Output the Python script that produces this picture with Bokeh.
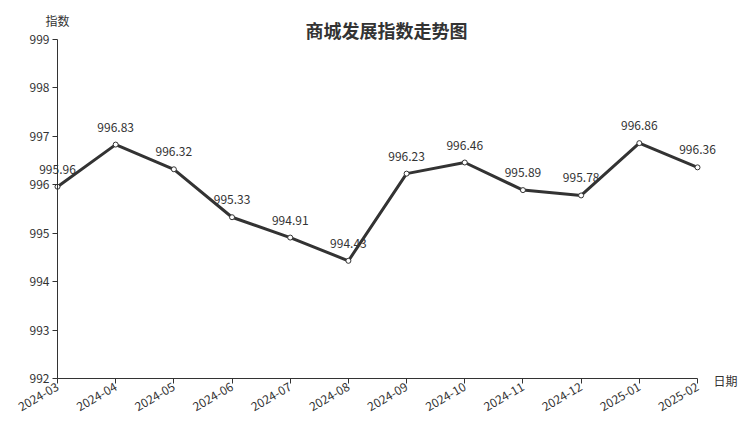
import math
from bokeh.plotting import figure
from bokeh.models import (ColumnDataSource, Range1d, FixedTicker, LabelSet, Label)
from bokeh.core.properties import value
from bokeh.embed import file_html
from bokeh.resources import INLINE

# ---- data ----
months = ["2024-03", "2024-04", "2024-05", "2024-06", "2024-07", "2024-08",
          "2024-09", "2024-10", "2024-11", "2024-12", "2025-01", "2025-02"]
index_values = [995.96, 996.83, 996.32, 995.33, 994.91, 994.43,
                996.23, 996.46, 995.89, 995.78, 996.86, 996.36]
y_ticks = [992, 993, 994, 995, 996, 997, 998, 999]
title_text = "商城发展指数走势图"
y_name = "指数"
x_name = "日期"

FONT = "Noto Sans CJK SC"
DARK = "#333333"

# ---- layout (pixels) ----
W, H = 752, 427
PLOT_L, PLOT_R, PLOT_T, PLOT_B = 57, 697, 39, 378

xs = list(range(len(months)))
src = ColumnDataSource(dict(
    x=xs, y=index_values, lbl=[f"{v:.2f}" for v in index_values]))

x0, x1 = xs[0], xs[-1]
y0, y1 = y_ticks[0], y_ticks[-1]
xpp = (x1 - x0) / (PLOT_R - PLOT_L)
ypp = (y1 - y0) / (PLOT_B - PLOT_T)
x_range = Range1d(x0 - PLOT_L * xpp, x1 + (W - PLOT_R) * xpp)
y_range = Range1d(y0 - (H - PLOT_B) * ypp, y1 + PLOT_T * ypp)

p = figure(
    width=W, height=H,
    min_border_left=0, min_border_right=0, min_border_top=0, min_border_bottom=0,
    x_range=x_range, y_range=y_range,
    output_backend="svg", toolbar_location=None, tools="",
)
p.outline_line_color = None
p.xgrid.visible = False
p.ygrid.visible = False
p.background_fill_color = "white"
p.border_fill_color = "white"

for ax in (p.xaxis[0], p.yaxis[0]):
    ax.axis_line_color = DARK
    ax.axis_line_width = 1
    ax.major_tick_line_color = DARK
    ax.major_tick_out = 5
    ax.major_tick_in = 0
    ax.minor_tick_line_color = None
    ax.major_label_text_font = FONT
    ax.major_label_text_font_size = "12px"
    ax.major_label_text_color = DARK

p.xaxis.ticker = FixedTicker(ticks=xs)
p.xaxis.major_label_overrides = {i: m for i, m in zip(xs, months)}
p.xaxis.major_label_orientation = math.pi / 6
p.xaxis.major_label_standoff = 2
p.xaxis.fixed_location = y0
p.xaxis.bounds = (x0, x1)
p.yaxis.ticker = FixedTicker(ticks=y_ticks)
p.yaxis.major_label_standoff = 3
p.yaxis.fixed_location = x0
p.yaxis.bounds = (y0, y1)

p.line("x", "y", source=src, line_color=DARK, line_width=3)
p.scatter("x", "y", source=src, marker="circle", size=5,
          fill_color="white", line_color=DARK, line_width=1)

labels = LabelSet(x="x", y="y", text="lbl", source=src,
                  y_offset=13, text_align="center", text_baseline="alphabetic",
                  text_font=value(FONT), text_font_size="12px", text_color=DARK)
p.add_layout(labels)

p.add_layout(Label(x=(x0 + x1) / 2, y=y1, x_offset=9, y_offset=10,
                   text=title_text, text_font=FONT, text_font_size="18px",
                   text_font_style="bold", text_color=DARK,
                   text_align="center", text_baseline="middle"))
p.add_layout(Label(x=x0, y=y1, y_offset=19, text=y_name,
                   text_font=FONT, text_font_size="12px", text_color=DARK,
                   text_align="center", text_baseline="middle"))
p.add_layout(Label(x=x1, y=y0, x_offset=16, y_offset=-2,
                   text=x_name, text_font=FONT, text_font_size="12px",
                   text_color=DARK, text_align="left", text_baseline="middle"))

open("out.html", "w").write(file_html(p, INLINE))
